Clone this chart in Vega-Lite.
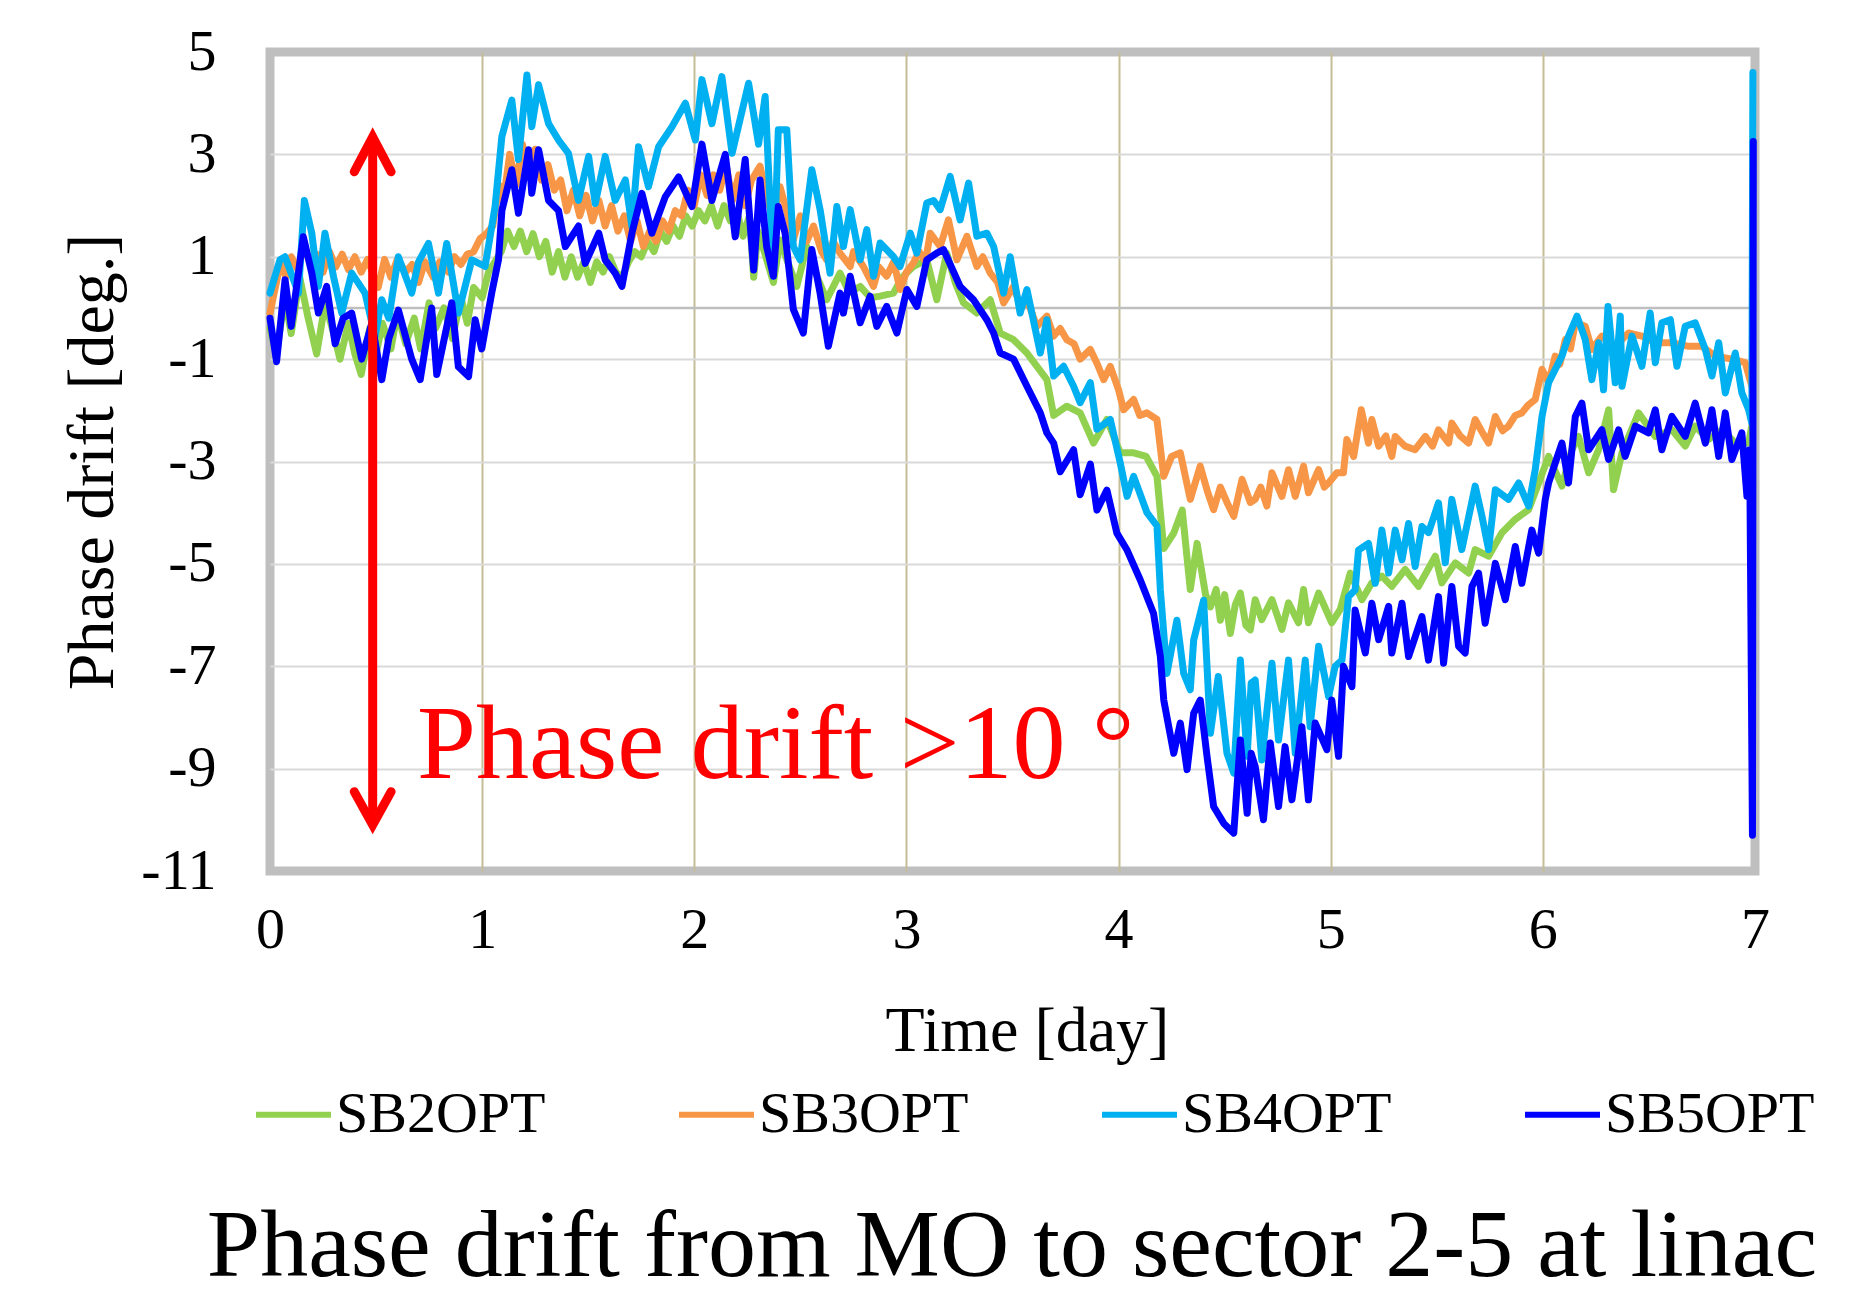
{
"$schema":"https://vega.github.io/schema/vega-lite/v6.json",
"width":1485,"height":819,
"autosize":{"type":"none"},
"padding":{"left":270,"top":52,"right":108,"bottom":429},
"background":"#ffffff",
"config":{
 "view":{"stroke":"#bfbfbf","strokeWidth":9},
 "font":"Liberation Serif",
 "axis":{"labelFont":"Liberation Serif","titleFont":"Liberation Serif","labelColor":"#000000","titleColor":"#000000","titleFontWeight":"normal","domain":false,"ticks":false,"tickSize":0,"labelFlush":false,"labelOverlap":false}
},
"title":{"text":"Phase drift from MO to sector 2-5 at linac","orient":"bottom","anchor":"end","frame":"group","fontSize":96,"font":"Liberation Serif","fontWeight":"normal","color":"#000000","dx":62,"offset":56},
"datasets":{
"series":[
{"s":"SB2OPT","t":0.0,"v":-0.4},{"s":"SB2OPT","t":0.03,"v":-0.9},{"s":"SB2OPT","t":0.07,"v":0.2},{"s":"SB2OPT","t":0.1,"v":-0.5},{"s":"SB2OPT","t":0.14,"v":0.6},{"s":"SB2OPT","t":0.18,"v":-0.2},{"s":"SB2OPT","t":0.22,"v":-0.9},{"s":"SB2OPT","t":0.26,"v":0.1},{"s":"SB2OPT","t":0.3,"v":-0.5},{"s":"SB2OPT","t":0.33,"v":-1.0},{"s":"SB2OPT","t":0.37,"v":-0.3},{"s":"SB2OPT","t":0.4,"v":-0.9},{"s":"SB2OPT","t":0.43,"v":-1.3},{"s":"SB2OPT","t":0.47,"v":-0.4},{"s":"SB2OPT","t":0.5,"v":-0.9},{"s":"SB2OPT","t":0.53,"v":-0.3},{"s":"SB2OPT","t":0.57,"v":-0.8},{"s":"SB2OPT","t":0.6,"v":-0.1},{"s":"SB2OPT","t":0.64,"v":-0.7},{"s":"SB2OPT","t":0.68,"v":-0.2},{"s":"SB2OPT","t":0.71,"v":-0.8},{"s":"SB2OPT","t":0.75,"v":0.1},{"s":"SB2OPT","t":0.78,"v":-0.4},{"s":"SB2OPT","t":0.82,"v":0.0},{"s":"SB2OPT","t":0.86,"v":-0.6},{"s":"SB2OPT","t":0.9,"v":0.2},{"s":"SB2OPT","t":0.93,"v":-0.3},{"s":"SB2OPT","t":0.96,"v":0.4},{"s":"SB2OPT","t":1.0,"v":0.2},{"s":"SB2OPT","t":1.03,"v":0.7},{"s":"SB2OPT","t":1.06,"v":0.9},{"s":"SB2OPT","t":1.09,"v":1.1},{"s":"SB2OPT","t":1.12,"v":1.5},{"s":"SB2OPT","t":1.15,"v":1.2},{"s":"SB2OPT","t":1.18,"v":1.5},{"s":"SB2OPT","t":1.21,"v":1.1},{"s":"SB2OPT","t":1.24,"v":1.45},{"s":"SB2OPT","t":1.27,"v":1.0},{"s":"SB2OPT","t":1.3,"v":1.3},{"s":"SB2OPT","t":1.33,"v":0.7},{"s":"SB2OPT","t":1.36,"v":1.1},{"s":"SB2OPT","t":1.39,"v":0.6},{"s":"SB2OPT","t":1.42,"v":1.0},{"s":"SB2OPT","t":1.45,"v":0.6},{"s":"SB2OPT","t":1.48,"v":0.9},{"s":"SB2OPT","t":1.51,"v":0.5},{"s":"SB2OPT","t":1.54,"v":0.9},{"s":"SB2OPT","t":1.57,"v":0.7},{"s":"SB2OPT","t":1.6,"v":1.0},{"s":"SB2OPT","t":1.63,"v":0.7},{"s":"SB2OPT","t":1.66,"v":0.6},{"s":"SB2OPT","t":1.69,"v":0.9},{"s":"SB2OPT","t":1.72,"v":1.1},{"s":"SB2OPT","t":1.75,"v":1.0},{"s":"SB2OPT","t":1.78,"v":1.3},{"s":"SB2OPT","t":1.81,"v":1.1},{"s":"SB2OPT","t":1.84,"v":1.5},{"s":"SB2OPT","t":1.87,"v":1.3},{"s":"SB2OPT","t":1.9,"v":1.6},{"s":"SB2OPT","t":1.93,"v":1.4},{"s":"SB2OPT","t":1.96,"v":1.8},{"s":"SB2OPT","t":1.99,"v":1.6},{"s":"SB2OPT","t":2.02,"v":1.9},{"s":"SB2OPT","t":2.05,"v":1.7},{"s":"SB2OPT","t":2.08,"v":2.0},{"s":"SB2OPT","t":2.11,"v":1.6},{"s":"SB2OPT","t":2.14,"v":2.0},{"s":"SB2OPT","t":2.17,"v":1.7},{"s":"SB2OPT","t":2.2,"v":1.9},{"s":"SB2OPT","t":2.23,"v":1.4},{"s":"SB2OPT","t":2.26,"v":1.8},{"s":"SB2OPT","t":2.28,"v":0.6},{"s":"SB2OPT","t":2.3,"v":1.5},{"s":"SB2OPT","t":2.33,"v":1.1},{"s":"SB2OPT","t":2.373,"v":0.5},{"s":"SB2OPT","t":2.404,"v":1.33},{"s":"SB2OPT","t":2.44,"v":0.9},{"s":"SB2OPT","t":2.483,"v":0.42},{"s":"SB2OPT","t":2.53,"v":1.2},{"s":"SB2OPT","t":2.58,"v":0.6},{"s":"SB2OPT","t":2.624,"v":0.16},{"s":"SB2OPT","t":2.687,"v":0.68},{"s":"SB2OPT","t":2.73,"v":0.3},{"s":"SB2OPT","t":2.782,"v":0.42},{"s":"SB2OPT","t":2.83,"v":0.2},{"s":"SB2OPT","t":2.876,"v":0.23},{"s":"SB2OPT","t":2.939,"v":0.29},{"s":"SB2OPT","t":2.98,"v":0.6},{"s":"SB2OPT","t":3.033,"v":0.81},{"s":"SB2OPT","t":3.096,"v":0.94},{"s":"SB2OPT","t":3.143,"v":0.16},{"s":"SB2OPT","t":3.19,"v":1.07},{"s":"SB2OPT","t":3.23,"v":0.5},{"s":"SB2OPT","t":3.269,"v":0.1},{"s":"SB2OPT","t":3.332,"v":-0.1},{"s":"SB2OPT","t":3.395,"v":0.16},{"s":"SB2OPT","t":3.442,"v":-0.49},{"s":"SB2OPT","t":3.505,"v":-0.62},{"s":"SB2OPT","t":3.568,"v":-0.88},{"s":"SB2OPT","t":3.615,"v":-1.14},{"s":"SB2OPT","t":3.662,"v":-1.4},{"s":"SB2OPT","t":3.694,"v":-2.1},{"s":"SB2OPT","t":3.756,"v":-1.92},{"s":"SB2OPT","t":3.819,"v":-2.05},{"s":"SB2OPT","t":3.882,"v":-2.64},{"s":"SB2OPT","t":3.945,"v":-2.18},{"s":"SB2OPT","t":4.008,"v":-2.83},{"s":"SB2OPT","t":4.071,"v":-2.83},{"s":"SB2OPT","t":4.13,"v":-2.9},{"s":"SB2OPT","t":4.181,"v":-3.29},{"s":"SB2OPT","t":4.213,"v":-4.7},{"s":"SB2OPT","t":4.26,"v":-4.4},{"s":"SB2OPT","t":4.3,"v":-3.95},{"s":"SB2OPT","t":4.338,"v":-5.5},{"s":"SB2OPT","t":4.37,"v":-4.6},{"s":"SB2OPT","t":4.41,"v":-5.6},{"s":"SB2OPT","t":4.433,"v":-5.84},{"s":"SB2OPT","t":4.46,"v":-5.5},{"s":"SB2OPT","t":4.48,"v":-6.1},{"s":"SB2OPT","t":4.5,"v":-5.6},{"s":"SB2OPT","t":4.527,"v":-6.36},{"s":"SB2OPT","t":4.55,"v":-5.8},{"s":"SB2OPT","t":4.574,"v":-5.57},{"s":"SB2OPT","t":4.6,"v":-6.2},{"s":"SB2OPT","t":4.621,"v":-6.29},{"s":"SB2OPT","t":4.644,"v":-5.7},{"s":"SB2OPT","t":4.675,"v":-6.09},{"s":"SB2OPT","t":4.723,"v":-5.7},{"s":"SB2OPT","t":4.77,"v":-6.28},{"s":"SB2OPT","t":4.801,"v":-5.76},{"s":"SB2OPT","t":4.848,"v":-6.15},{"s":"SB2OPT","t":4.872,"v":-5.5},{"s":"SB2OPT","t":4.895,"v":-6.15},{"s":"SB2OPT","t":4.943,"v":-5.57},{"s":"SB2OPT","t":5.005,"v":-6.15},{"s":"SB2OPT","t":5.045,"v":-5.89},{"s":"SB2OPT","t":5.092,"v":-5.18},{"s":"SB2OPT","t":5.147,"v":-5.7},{"s":"SB2OPT","t":5.194,"v":-5.37},{"s":"SB2OPT","t":5.241,"v":-5.24},{"s":"SB2OPT","t":5.288,"v":-5.44},{"s":"SB2OPT","t":5.351,"v":-5.11},{"s":"SB2OPT","t":5.414,"v":-5.44},{"s":"SB2OPT","t":5.493,"v":-4.85},{"s":"SB2OPT","t":5.524,"v":-5.37},{"s":"SB2OPT","t":5.587,"v":-4.98},{"s":"SB2OPT","t":5.65,"v":-5.18},{"s":"SB2OPT","t":5.681,"v":-4.72},{"s":"SB2OPT","t":5.744,"v":-4.85},{"s":"SB2OPT","t":5.807,"v":-4.39},{"s":"SB2OPT","t":5.87,"v":-4.13},{"s":"SB2OPT","t":5.933,"v":-3.94},{"s":"SB2OPT","t":5.98,"v":-3.42},{"s":"SB2OPT","t":6.027,"v":-2.9},{"s":"SB2OPT","t":6.09,"v":-3.48},{"s":"SB2OPT","t":6.137,"v":-2.77},{"s":"SB2OPT","t":6.168,"v":-2.51},{"s":"SB2OPT","t":6.216,"v":-3.22},{"s":"SB2OPT","t":6.263,"v":-2.77},{"s":"SB2OPT","t":6.31,"v":-1.99},{"s":"SB2OPT","t":6.333,"v":-3.55},{"s":"SB2OPT","t":6.373,"v":-2.83},{"s":"SB2OPT","t":6.451,"v":-2.05},{"s":"SB2OPT","t":6.53,"v":-2.51},{"s":"SB2OPT","t":6.608,"v":-2.38},{"s":"SB2OPT","t":6.671,"v":-2.7},{"s":"SB2OPT","t":6.718,"v":-2.31},{"s":"SB2OPT","t":6.781,"v":-2.57},{"s":"SB2OPT","t":6.844,"v":-2.38},{"s":"SB2OPT","t":6.907,"v":-2.64},{"s":"SB2OPT","t":6.97,"v":-2.64},{"s":"SB2OPT","t":6.985,"v":-2.3},
{"s":"SB3OPT","t":0.0,"v":-0.1},{"s":"SB3OPT","t":0.025,"v":0.4},{"s":"SB3OPT","t":0.05,"v":0.9},{"s":"SB3OPT","t":0.075,"v":0.6},{"s":"SB3OPT","t":0.1,"v":1.0},{"s":"SB3OPT","t":0.13,"v":0.75},{"s":"SB3OPT","t":0.16,"v":1.2},{"s":"SB3OPT","t":0.19,"v":0.85},{"s":"SB3OPT","t":0.22,"v":1.05},{"s":"SB3OPT","t":0.25,"v":0.7},{"s":"SB3OPT","t":0.28,"v":1.1},{"s":"SB3OPT","t":0.31,"v":0.8},{"s":"SB3OPT","t":0.34,"v":1.05},{"s":"SB3OPT","t":0.37,"v":0.75},{"s":"SB3OPT","t":0.4,"v":1.0},{"s":"SB3OPT","t":0.43,"v":0.7},{"s":"SB3OPT","t":0.46,"v":0.95},{"s":"SB3OPT","t":0.51,"v":0.4},{"s":"SB3OPT","t":0.54,"v":0.95},{"s":"SB3OPT","t":0.57,"v":0.6},{"s":"SB3OPT","t":0.6,"v":0.95},{"s":"SB3OPT","t":0.64,"v":0.7},{"s":"SB3OPT","t":0.67,"v":0.85},{"s":"SB3OPT","t":0.7,"v":0.5},{"s":"SB3OPT","t":0.73,"v":0.9},{"s":"SB3OPT","t":0.77,"v":0.6},{"s":"SB3OPT","t":0.8,"v":0.9},{"s":"SB3OPT","t":0.84,"v":0.7},{"s":"SB3OPT","t":0.87,"v":1.0},{"s":"SB3OPT","t":0.9,"v":0.85},{"s":"SB3OPT","t":0.93,"v":1.05},{"s":"SB3OPT","t":0.96,"v":1.1},{"s":"SB3OPT","t":0.99,"v":1.35},{"s":"SB3OPT","t":1.02,"v":1.45},{"s":"SB3OPT","t":1.05,"v":1.6},{"s":"SB3OPT","t":1.08,"v":2.4},{"s":"SB3OPT","t":1.1,"v":2.1},{"s":"SB3OPT","t":1.13,"v":3.0},{"s":"SB3OPT","t":1.16,"v":2.4},{"s":"SB3OPT","t":1.19,"v":3.2},{"s":"SB3OPT","t":1.22,"v":2.6},{"s":"SB3OPT","t":1.25,"v":3.1},{"s":"SB3OPT","t":1.28,"v":2.5},{"s":"SB3OPT","t":1.31,"v":2.8},{"s":"SB3OPT","t":1.34,"v":2.3},{"s":"SB3OPT","t":1.37,"v":2.5},{"s":"SB3OPT","t":1.4,"v":1.9},{"s":"SB3OPT","t":1.43,"v":2.3},{"s":"SB3OPT","t":1.46,"v":1.8},{"s":"SB3OPT","t":1.49,"v":2.2},{"s":"SB3OPT","t":1.52,"v":1.7},{"s":"SB3OPT","t":1.55,"v":2.1},{"s":"SB3OPT","t":1.58,"v":1.6},{"s":"SB3OPT","t":1.61,"v":2.0},{"s":"SB3OPT","t":1.64,"v":1.5},{"s":"SB3OPT","t":1.67,"v":1.8},{"s":"SB3OPT","t":1.7,"v":1.3},{"s":"SB3OPT","t":1.73,"v":1.7},{"s":"SB3OPT","t":1.76,"v":1.2},{"s":"SB3OPT","t":1.79,"v":1.5},{"s":"SB3OPT","t":1.82,"v":1.3},{"s":"SB3OPT","t":1.85,"v":1.7},{"s":"SB3OPT","t":1.88,"v":1.5},{"s":"SB3OPT","t":1.91,"v":1.9},{"s":"SB3OPT","t":1.94,"v":1.8},{"s":"SB3OPT","t":1.97,"v":2.3},{"s":"SB3OPT","t":2.0,"v":2.0},{"s":"SB3OPT","t":2.03,"v":2.6},{"s":"SB3OPT","t":2.06,"v":2.2},{"s":"SB3OPT","t":2.09,"v":2.6},{"s":"SB3OPT","t":2.12,"v":2.3},{"s":"SB3OPT","t":2.15,"v":2.8},{"s":"SB3OPT","t":2.18,"v":2.1},{"s":"SB3OPT","t":2.21,"v":2.6},{"s":"SB3OPT","t":2.24,"v":2.0},{"s":"SB3OPT","t":2.27,"v":2.5},{"s":"SB3OPT","t":2.31,"v":2.77},{"s":"SB3OPT","t":2.34,"v":2.2},{"s":"SB3OPT","t":2.373,"v":1.72},{"s":"SB3OPT","t":2.404,"v":2.37},{"s":"SB3OPT","t":2.435,"v":1.9},{"s":"SB3OPT","t":2.467,"v":1.33},{"s":"SB3OPT","t":2.5,"v":1.8},{"s":"SB3OPT","t":2.53,"v":1.3},{"s":"SB3OPT","t":2.562,"v":1.6},{"s":"SB3OPT","t":2.6,"v":1.1},{"s":"SB3OPT","t":2.624,"v":0.94},{"s":"SB3OPT","t":2.655,"v":1.3},{"s":"SB3OPT","t":2.687,"v":1.07},{"s":"SB3OPT","t":2.735,"v":0.81},{"s":"SB3OPT","t":2.75,"v":1.1},{"s":"SB3OPT","t":2.797,"v":0.81},{"s":"SB3OPT","t":2.845,"v":0.42},{"s":"SB3OPT","t":2.87,"v":0.8},{"s":"SB3OPT","t":2.907,"v":0.62},{"s":"SB3OPT","t":2.94,"v":0.9},{"s":"SB3OPT","t":2.97,"v":0.36},{"s":"SB3OPT","t":3.0,"v":0.7},{"s":"SB3OPT","t":3.033,"v":0.88},{"s":"SB3OPT","t":3.06,"v":1.1},{"s":"SB3OPT","t":3.09,"v":0.9},{"s":"SB3OPT","t":3.112,"v":1.46},{"s":"SB3OPT","t":3.159,"v":1.2},{"s":"SB3OPT","t":3.198,"v":1.72},{"s":"SB3OPT","t":3.238,"v":0.94},{"s":"SB3OPT","t":3.285,"v":1.4},{"s":"SB3OPT","t":3.332,"v":0.81},{"s":"SB3OPT","t":3.36,"v":1.0},{"s":"SB3OPT","t":3.395,"v":0.68},{"s":"SB3OPT","t":3.43,"v":0.5},{"s":"SB3OPT","t":3.458,"v":0.1},{"s":"SB3OPT","t":3.505,"v":0.42},{"s":"SB3OPT","t":3.54,"v":0.0},{"s":"SB3OPT","t":3.568,"v":0.16},{"s":"SB3OPT","t":3.615,"v":-0.36},{"s":"SB3OPT","t":3.662,"v":-0.16},{"s":"SB3OPT","t":3.694,"v":-0.55},{"s":"SB3OPT","t":3.725,"v":-0.4},{"s":"SB3OPT","t":3.756,"v":-0.62},{"s":"SB3OPT","t":3.79,"v":-0.7},{"s":"SB3OPT","t":3.819,"v":-1.0},{"s":"SB3OPT","t":3.867,"v":-0.81},{"s":"SB3OPT","t":3.9,"v":-1.1},{"s":"SB3OPT","t":3.93,"v":-1.4},{"s":"SB3OPT","t":3.961,"v":-1.14},{"s":"SB3OPT","t":4.0,"v":-1.6},{"s":"SB3OPT","t":4.024,"v":-1.99},{"s":"SB3OPT","t":4.071,"v":-1.79},{"s":"SB3OPT","t":4.1,"v":-2.1},{"s":"SB3OPT","t":4.134,"v":-2.05},{"s":"SB3OPT","t":4.181,"v":-2.18},{"s":"SB3OPT","t":4.213,"v":-3.29},{"s":"SB3OPT","t":4.25,"v":-2.9},{"s":"SB3OPT","t":4.291,"v":-2.83},{"s":"SB3OPT","t":4.338,"v":-3.74},{"s":"SB3OPT","t":4.385,"v":-3.09},{"s":"SB3OPT","t":4.42,"v":-3.6},{"s":"SB3OPT","t":4.448,"v":-3.94},{"s":"SB3OPT","t":4.48,"v":-3.5},{"s":"SB3OPT","t":4.511,"v":-3.8},{"s":"SB3OPT","t":4.543,"v":-4.07},{"s":"SB3OPT","t":4.582,"v":-3.35},{"s":"SB3OPT","t":4.621,"v":-3.8},{"s":"SB3OPT","t":4.644,"v":-3.74},{"s":"SB3OPT","t":4.67,"v":-3.5},{"s":"SB3OPT","t":4.699,"v":-3.87},{"s":"SB3OPT","t":4.723,"v":-3.22},{"s":"SB3OPT","t":4.77,"v":-3.68},{"s":"SB3OPT","t":4.801,"v":-3.16},{"s":"SB3OPT","t":4.833,"v":-3.68},{"s":"SB3OPT","t":4.872,"v":-3.09},{"s":"SB3OPT","t":4.895,"v":-3.61},{"s":"SB3OPT","t":4.943,"v":-3.16},{"s":"SB3OPT","t":4.97,"v":-3.5},{"s":"SB3OPT","t":4.99,"v":-3.42},{"s":"SB3OPT","t":5.029,"v":-3.22},{"s":"SB3OPT","t":5.06,"v":-3.22},{"s":"SB3OPT","t":5.076,"v":-2.57},{"s":"SB3OPT","t":5.108,"v":-2.9},{"s":"SB3OPT","t":5.144,"v":-1.99},{"s":"SB3OPT","t":5.178,"v":-2.64},{"s":"SB3OPT","t":5.194,"v":-2.18},{"s":"SB3OPT","t":5.226,"v":-2.7},{"s":"SB3OPT","t":5.26,"v":-2.5},{"s":"SB3OPT","t":5.288,"v":-2.9},{"s":"SB3OPT","t":5.304,"v":-2.51},{"s":"SB3OPT","t":5.35,"v":-2.7},{"s":"SB3OPT","t":5.398,"v":-2.77},{"s":"SB3OPT","t":5.446,"v":-2.51},{"s":"SB3OPT","t":5.48,"v":-2.7},{"s":"SB3OPT","t":5.508,"v":-2.38},{"s":"SB3OPT","t":5.556,"v":-2.64},{"s":"SB3OPT","t":5.571,"v":-2.25},{"s":"SB3OPT","t":5.61,"v":-2.5},{"s":"SB3OPT","t":5.65,"v":-2.64},{"s":"SB3OPT","t":5.681,"v":-2.18},{"s":"SB3OPT","t":5.71,"v":-2.4},{"s":"SB3OPT","t":5.744,"v":-2.64},{"s":"SB3OPT","t":5.776,"v":-2.12},{"s":"SB3OPT","t":5.81,"v":-2.4},{"s":"SB3OPT","t":5.838,"v":-2.31},{"s":"SB3OPT","t":5.87,"v":-2.1},{"s":"SB3OPT","t":5.901,"v":-2.05},{"s":"SB3OPT","t":5.93,"v":-1.9},{"s":"SB3OPT","t":5.964,"v":-1.79},{"s":"SB3OPT","t":5.996,"v":-1.2},{"s":"SB3OPT","t":6.027,"v":-1.46},{"s":"SB3OPT","t":6.058,"v":-0.94},{"s":"SB3OPT","t":6.08,"v":-1.1},{"s":"SB3OPT","t":6.106,"v":-0.62},{"s":"SB3OPT","t":6.13,"v":-0.8},{"s":"SB3OPT","t":6.153,"v":-0.29},{"s":"SB3OPT","t":6.2,"v":-0.36},{"s":"SB3OPT","t":6.231,"v":-0.81},{"s":"SB3OPT","t":6.278,"v":-0.55},{"s":"SB3OPT","t":6.341,"v":-0.75},{"s":"SB3OPT","t":6.404,"v":-0.49},{"s":"SB3OPT","t":6.467,"v":-0.55},{"s":"SB3OPT","t":6.53,"v":-0.68},{"s":"SB3OPT","t":6.608,"v":-0.68},{"s":"SB3OPT","t":6.687,"v":-0.75},{"s":"SB3OPT","t":6.75,"v":-0.75},{"s":"SB3OPT","t":6.813,"v":-0.94},{"s":"SB3OPT","t":6.891,"v":-1.0},{"s":"SB3OPT","t":6.954,"v":-1.07},{"s":"SB3OPT","t":6.985,"v":-1.53},
{"s":"SB4OPT","t":0.0,"v":0.29},{"s":"SB4OPT","t":0.047,"v":0.94},{"s":"SB4OPT","t":0.071,"v":1.0},{"s":"SB4OPT","t":0.134,"v":0.29},{"s":"SB4OPT","t":0.162,"v":2.1},{"s":"SB4OPT","t":0.197,"v":1.46},{"s":"SB4OPT","t":0.228,"v":0.42},{"s":"SB4OPT","t":0.259,"v":1.46},{"s":"SB4OPT","t":0.3,"v":0.6},{"s":"SB4OPT","t":0.338,"v":-0.1},{"s":"SB4OPT","t":0.385,"v":0.68},{"s":"SB4OPT","t":0.448,"v":0.29},{"s":"SB4OPT","t":0.495,"v":-0.56},{"s":"SB4OPT","t":0.527,"v":0.16},{"s":"SB4OPT","t":0.56,"v":-0.2},{"s":"SB4OPT","t":0.605,"v":1.0},{"s":"SB4OPT","t":0.668,"v":0.29},{"s":"SB4OPT","t":0.7,"v":0.9},{"s":"SB4OPT","t":0.747,"v":1.26},{"s":"SB4OPT","t":0.794,"v":0.29},{"s":"SB4OPT","t":0.833,"v":1.26},{"s":"SB4OPT","t":0.888,"v":-0.1},{"s":"SB4OPT","t":0.951,"v":0.94},{"s":"SB4OPT","t":1.014,"v":0.81},{"s":"SB4OPT","t":1.061,"v":1.98},{"s":"SB4OPT","t":1.093,"v":3.35},{"s":"SB4OPT","t":1.14,"v":4.06},{"s":"SB4OPT","t":1.171,"v":2.9},{"s":"SB4OPT","t":1.211,"v":4.55},{"s":"SB4OPT","t":1.234,"v":3.54},{"s":"SB4OPT","t":1.266,"v":4.36},{"s":"SB4OPT","t":1.313,"v":3.6},{"s":"SB4OPT","t":1.36,"v":3.28},{"s":"SB4OPT","t":1.407,"v":3.02},{"s":"SB4OPT","t":1.454,"v":2.1},{"s":"SB4OPT","t":1.502,"v":2.96},{"s":"SB4OPT","t":1.533,"v":2.04},{"s":"SB4OPT","t":1.58,"v":2.96},{"s":"SB4OPT","t":1.627,"v":2.1},{"s":"SB4OPT","t":1.675,"v":2.5},{"s":"SB4OPT","t":1.706,"v":1.59},{"s":"SB4OPT","t":1.737,"v":3.15},{"s":"SB4OPT","t":1.784,"v":2.37},{"s":"SB4OPT","t":1.832,"v":3.15},{"s":"SB4OPT","t":1.895,"v":3.54},{"s":"SB4OPT","t":1.958,"v":4.0},{"s":"SB4OPT","t":2.005,"v":3.28},{"s":"SB4OPT","t":2.036,"v":4.46},{"s":"SB4OPT","t":2.083,"v":3.6},{"s":"SB4OPT","t":2.13,"v":4.52},{"s":"SB4OPT","t":2.178,"v":3.02},{"s":"SB4OPT","t":2.256,"v":4.39},{"s":"SB4OPT","t":2.303,"v":3.2},{"s":"SB4OPT","t":2.334,"v":4.13},{"s":"SB4OPT","t":2.373,"v":0.62},{"s":"SB4OPT","t":2.396,"v":3.48},{"s":"SB4OPT","t":2.436,"v":3.48},{"s":"SB4OPT","t":2.467,"v":1.2},{"s":"SB4OPT","t":2.499,"v":0.94},{"s":"SB4OPT","t":2.554,"v":2.7},{"s":"SB4OPT","t":2.593,"v":1.92},{"s":"SB4OPT","t":2.64,"v":0.68},{"s":"SB4OPT","t":2.672,"v":1.98},{"s":"SB4OPT","t":2.703,"v":1.2},{"s":"SB4OPT","t":2.735,"v":1.92},{"s":"SB4OPT","t":2.782,"v":0.94},{"s":"SB4OPT","t":2.813,"v":1.53},{"s":"SB4OPT","t":2.845,"v":0.62},{"s":"SB4OPT","t":2.876,"v":1.27},{"s":"SB4OPT","t":2.939,"v":1.0},{"s":"SB4OPT","t":2.97,"v":0.81},{"s":"SB4OPT","t":3.018,"v":1.46},{"s":"SB4OPT","t":3.049,"v":1.07},{"s":"SB4OPT","t":3.096,"v":2.05},{"s":"SB4OPT","t":3.128,"v":2.1},{"s":"SB4OPT","t":3.159,"v":1.92},{"s":"SB4OPT","t":3.206,"v":2.57},{"s":"SB4OPT","t":3.253,"v":1.72},{"s":"SB4OPT","t":3.293,"v":2.44},{"s":"SB4OPT","t":3.332,"v":1.4},{"s":"SB4OPT","t":3.379,"v":1.46},{"s":"SB4OPT","t":3.411,"v":1.2},{"s":"SB4OPT","t":3.458,"v":0.29},{"s":"SB4OPT","t":3.489,"v":1.0},{"s":"SB4OPT","t":3.536,"v":-0.1},{"s":"SB4OPT","t":3.568,"v":0.36},{"s":"SB4OPT","t":3.631,"v":-0.88},{"s":"SB4OPT","t":3.662,"v":-0.23},{"s":"SB4OPT","t":3.694,"v":-1.33},{"s":"SB4OPT","t":3.741,"v":-1.14},{"s":"SB4OPT","t":3.788,"v":-1.53},{"s":"SB4OPT","t":3.819,"v":-1.85},{"s":"SB4OPT","t":3.867,"v":-1.46},{"s":"SB4OPT","t":3.898,"v":-2.37},{"s":"SB4OPT","t":3.961,"v":-2.18},{"s":"SB4OPT","t":4.008,"v":-3.03},{"s":"SB4OPT","t":4.04,"v":-3.68},{"s":"SB4OPT","t":4.071,"v":-3.29},{"s":"SB4OPT","t":4.134,"v":-4.0},{"s":"SB4OPT","t":4.181,"v":-4.26},{"s":"SB4OPT","t":4.197,"v":-5.51},{"s":"SB4OPT","t":4.228,"v":-7.14},{"s":"SB4OPT","t":4.275,"v":-6.1},{"s":"SB4OPT","t":4.307,"v":-7.14},{"s":"SB4OPT","t":4.338,"v":-7.46},{"s":"SB4OPT","t":4.354,"v":-6.49},{"s":"SB4OPT","t":4.401,"v":-5.71},{"s":"SB4OPT","t":4.433,"v":-8.31},{"s":"SB4OPT","t":4.47,"v":-7.2},{"s":"SB4OPT","t":4.511,"v":-8.7},{"s":"SB4OPT","t":4.543,"v":-9.09},{"s":"SB4OPT","t":4.574,"v":-6.88},{"s":"SB4OPT","t":4.606,"v":-8.76},{"s":"SB4OPT","t":4.625,"v":-7.33},{"s":"SB4OPT","t":4.644,"v":-7.27},{"s":"SB4OPT","t":4.675,"v":-8.83},{"s":"SB4OPT","t":4.723,"v":-6.94},{"s":"SB4OPT","t":4.754,"v":-8.44},{"s":"SB4OPT","t":4.801,"v":-6.88},{"s":"SB4OPT","t":4.833,"v":-8.7},{"s":"SB4OPT","t":4.88,"v":-6.88},{"s":"SB4OPT","t":4.903,"v":-8.18},{"s":"SB4OPT","t":4.943,"v":-6.61},{"s":"SB4OPT","t":4.99,"v":-7.59},{"s":"SB4OPT","t":5.021,"v":-7.0},{"s":"SB4OPT","t":5.053,"v":-6.88},{"s":"SB4OPT","t":5.084,"v":-5.64},{"s":"SB4OPT","t":5.115,"v":-5.51},{"s":"SB4OPT","t":5.131,"v":-4.73},{"s":"SB4OPT","t":5.178,"v":-4.6},{"s":"SB4OPT","t":5.21,"v":-5.38},{"s":"SB4OPT","t":5.241,"v":-4.34},{"s":"SB4OPT","t":5.273,"v":-5.18},{"s":"SB4OPT","t":5.304,"v":-4.34},{"s":"SB4OPT","t":5.336,"v":-4.92},{"s":"SB4OPT","t":5.367,"v":-4.21},{"s":"SB4OPT","t":5.398,"v":-5.05},{"s":"SB4OPT","t":5.43,"v":-4.27},{"s":"SB4OPT","t":5.461,"v":-4.39},{"s":"SB4OPT","t":5.508,"v":-3.81},{"s":"SB4OPT","t":5.54,"v":-4.98},{"s":"SB4OPT","t":5.571,"v":-3.74},{"s":"SB4OPT","t":5.618,"v":-4.72},{"s":"SB4OPT","t":5.681,"v":-3.48},{"s":"SB4OPT","t":5.713,"v":-4.07},{"s":"SB4OPT","t":5.744,"v":-4.72},{"s":"SB4OPT","t":5.776,"v":-3.55},{"s":"SB4OPT","t":5.838,"v":-3.74},{"s":"SB4OPT","t":5.886,"v":-3.42},{"s":"SB4OPT","t":5.933,"v":-3.87},{"s":"SB4OPT","t":5.964,"v":-3.16},{"s":"SB4OPT","t":5.996,"v":-2.12},{"s":"SB4OPT","t":6.027,"v":-1.46},{"s":"SB4OPT","t":6.09,"v":-0.94},{"s":"SB4OPT","t":6.121,"v":-0.55},{"s":"SB4OPT","t":6.161,"v":-0.16},{"s":"SB4OPT","t":6.2,"v":-0.62},{"s":"SB4OPT","t":6.231,"v":-1.4},{"s":"SB4OPT","t":6.263,"v":-0.68},{"s":"SB4OPT","t":6.286,"v":-1.6},{"s":"SB4OPT","t":6.307,"v":0.03},{"s":"SB4OPT","t":6.341,"v":-1.46},{"s":"SB4OPT","t":6.365,"v":-0.16},{"s":"SB4OPT","t":6.373,"v":-1.53},{"s":"SB4OPT","t":6.42,"v":-0.55},{"s":"SB4OPT","t":6.467,"v":-1.14},{"s":"SB4OPT","t":6.506,"v":-0.1},{"s":"SB4OPT","t":6.53,"v":-1.07},{"s":"SB4OPT","t":6.561,"v":-0.29},{"s":"SB4OPT","t":6.601,"v":-0.23},{"s":"SB4OPT","t":6.632,"v":-1.14},{"s":"SB4OPT","t":6.671,"v":-0.36},{"s":"SB4OPT","t":6.718,"v":-0.29},{"s":"SB4OPT","t":6.766,"v":-0.81},{"s":"SB4OPT","t":6.797,"v":-1.33},{"s":"SB4OPT","t":6.829,"v":-0.68},{"s":"SB4OPT","t":6.86,"v":-1.66},{"s":"SB4OPT","t":6.907,"v":-0.88},{"s":"SB4OPT","t":6.938,"v":-1.66},{"s":"SB4OPT","t":6.97,"v":-1.99},{"s":"SB4OPT","t":6.985,"v":-2.25},{"s":"SB4OPT","t":6.99,"v":4.6},
{"s":"SB5OPT","t":0.0,"v":-0.2},{"s":"SB5OPT","t":0.031,"v":-1.05},{"s":"SB5OPT","t":0.071,"v":0.55},{"s":"SB5OPT","t":0.1,"v":-0.36},{"s":"SB5OPT","t":0.157,"v":1.39},{"s":"SB5OPT","t":0.197,"v":0.68},{"s":"SB5OPT","t":0.228,"v":-0.1},{"s":"SB5OPT","t":0.267,"v":0.42},{"s":"SB5OPT","t":0.307,"v":-0.7},{"s":"SB5OPT","t":0.345,"v":-0.2},{"s":"SB5OPT","t":0.385,"v":-0.1},{"s":"SB5OPT","t":0.432,"v":-1.0},{"s":"SB5OPT","t":0.48,"v":-0.3},{"s":"SB5OPT","t":0.527,"v":-1.4},{"s":"SB5OPT","t":0.56,"v":-0.6},{"s":"SB5OPT","t":0.605,"v":-0.04},{"s":"SB5OPT","t":0.668,"v":-1.0},{"s":"SB5OPT","t":0.708,"v":-1.4},{"s":"SB5OPT","t":0.762,"v":0.0},{"s":"SB5OPT","t":0.786,"v":-1.3},{"s":"SB5OPT","t":0.857,"v":0.1},{"s":"SB5OPT","t":0.888,"v":-1.15},{"s":"SB5OPT","t":0.936,"v":-1.34},{"s":"SB5OPT","t":0.967,"v":-0.23},{"s":"SB5OPT","t":0.998,"v":-0.8},{"s":"SB5OPT","t":1.045,"v":0.29},{"s":"SB5OPT","t":1.077,"v":0.94},{"s":"SB5OPT","t":1.093,"v":1.9},{"s":"SB5OPT","t":1.14,"v":2.7},{"s":"SB5OPT","t":1.171,"v":1.85},{"s":"SB5OPT","t":1.219,"v":3.09},{"s":"SB5OPT","t":1.234,"v":2.24},{"s":"SB5OPT","t":1.266,"v":3.09},{"s":"SB5OPT","t":1.313,"v":2.1},{"s":"SB5OPT","t":1.36,"v":1.9},{"s":"SB5OPT","t":1.392,"v":1.2},{"s":"SB5OPT","t":1.454,"v":1.6},{"s":"SB5OPT","t":1.486,"v":0.87},{"s":"SB5OPT","t":1.55,"v":1.46},{"s":"SB5OPT","t":1.58,"v":0.94},{"s":"SB5OPT","t":1.627,"v":0.68},{"s":"SB5OPT","t":1.659,"v":0.42},{"s":"SB5OPT","t":1.706,"v":1.46},{"s":"SB5OPT","t":1.753,"v":2.24},{"s":"SB5OPT","t":1.8,"v":1.46},{"s":"SB5OPT","t":1.863,"v":2.17},{"s":"SB5OPT","t":1.926,"v":2.56},{"s":"SB5OPT","t":1.989,"v":1.98},{"s":"SB5OPT","t":2.036,"v":3.2},{"s":"SB5OPT","t":2.083,"v":2.1},{"s":"SB5OPT","t":2.146,"v":3.0},{"s":"SB5OPT","t":2.193,"v":1.39},{"s":"SB5OPT","t":2.24,"v":2.9},{"s":"SB5OPT","t":2.28,"v":0.74},{"s":"SB5OPT","t":2.31,"v":2.5},{"s":"SB5OPT","t":2.341,"v":1.2},{"s":"SB5OPT","t":2.373,"v":0.62},{"s":"SB5OPT","t":2.396,"v":1.98},{"s":"SB5OPT","t":2.428,"v":1.46},{"s":"SB5OPT","t":2.467,"v":-0.03},{"s":"SB5OPT","t":2.514,"v":-0.49},{"s":"SB5OPT","t":2.554,"v":1.14},{"s":"SB5OPT","t":2.593,"v":0.29},{"s":"SB5OPT","t":2.632,"v":-0.75},{"s":"SB5OPT","t":2.687,"v":0.29},{"s":"SB5OPT","t":2.703,"v":-0.1},{"s":"SB5OPT","t":2.735,"v":0.62},{"s":"SB5OPT","t":2.782,"v":-0.29},{"s":"SB5OPT","t":2.829,"v":0.23},{"s":"SB5OPT","t":2.86,"v":-0.36},{"s":"SB5OPT","t":2.907,"v":0.03},{"s":"SB5OPT","t":2.955,"v":-0.49},{"s":"SB5OPT","t":3.002,"v":0.36},{"s":"SB5OPT","t":3.049,"v":0.03},{"s":"SB5OPT","t":3.096,"v":0.94},{"s":"SB5OPT","t":3.143,"v":1.07},{"s":"SB5OPT","t":3.175,"v":1.14},{"s":"SB5OPT","t":3.253,"v":0.42},{"s":"SB5OPT","t":3.316,"v":0.16},{"s":"SB5OPT","t":3.379,"v":-0.23},{"s":"SB5OPT","t":3.411,"v":-0.49},{"s":"SB5OPT","t":3.442,"v":-0.88},{"s":"SB5OPT","t":3.505,"v":-1.0},{"s":"SB5OPT","t":3.568,"v":-1.53},{"s":"SB5OPT","t":3.631,"v":-2.05},{"s":"SB5OPT","t":3.662,"v":-2.44},{"s":"SB5OPT","t":3.694,"v":-2.64},{"s":"SB5OPT","t":3.725,"v":-3.2},{"s":"SB5OPT","t":3.788,"v":-2.77},{"s":"SB5OPT","t":3.819,"v":-3.65},{"s":"SB5OPT","t":3.867,"v":-3.05},{"s":"SB5OPT","t":3.898,"v":-3.95},{"s":"SB5OPT","t":3.945,"v":-3.56},{"s":"SB5OPT","t":3.992,"v":-4.4},{"s":"SB5OPT","t":4.04,"v":-4.73},{"s":"SB5OPT","t":4.102,"v":-5.31},{"s":"SB5OPT","t":4.165,"v":-5.97},{"s":"SB5OPT","t":4.197,"v":-6.81},{"s":"SB5OPT","t":4.213,"v":-7.66},{"s":"SB5OPT","t":4.26,"v":-8.7},{"s":"SB5OPT","t":4.291,"v":-8.11},{"s":"SB5OPT","t":4.323,"v":-9.02},{"s":"SB5OPT","t":4.354,"v":-7.92},{"s":"SB5OPT","t":4.385,"v":-7.66},{"s":"SB5OPT","t":4.417,"v":-8.76},{"s":"SB5OPT","t":4.448,"v":-9.74},{"s":"SB5OPT","t":4.496,"v":-10.07},{"s":"SB5OPT","t":4.543,"v":-10.26},{"s":"SB5OPT","t":4.574,"v":-8.44},{"s":"SB5OPT","t":4.606,"v":-9.87},{"s":"SB5OPT","t":4.625,"v":-8.7},{"s":"SB5OPT","t":4.644,"v":-8.96},{"s":"SB5OPT","t":4.683,"v":-10.0},{"s":"SB5OPT","t":4.715,"v":-8.5},{"s":"SB5OPT","t":4.754,"v":-9.74},{"s":"SB5OPT","t":4.785,"v":-8.57},{"s":"SB5OPT","t":4.817,"v":-9.61},{"s":"SB5OPT","t":4.864,"v":-8.18},{"s":"SB5OPT","t":4.895,"v":-9.61},{"s":"SB5OPT","t":4.927,"v":-8.11},{"s":"SB5OPT","t":4.982,"v":-8.63},{"s":"SB5OPT","t":5.005,"v":-7.66},{"s":"SB5OPT","t":5.037,"v":-8.76},{"s":"SB5OPT","t":5.06,"v":-7.0},{"s":"SB5OPT","t":5.1,"v":-7.4},{"s":"SB5OPT","t":5.115,"v":-5.9},{"s":"SB5OPT","t":5.163,"v":-6.74},{"s":"SB5OPT","t":5.194,"v":-5.77},{"s":"SB5OPT","t":5.226,"v":-6.48},{"s":"SB5OPT","t":5.273,"v":-5.83},{"s":"SB5OPT","t":5.288,"v":-6.74},{"s":"SB5OPT","t":5.336,"v":-5.77},{"s":"SB5OPT","t":5.367,"v":-6.81},{"s":"SB5OPT","t":5.43,"v":-6.03},{"s":"SB5OPT","t":5.461,"v":-6.88},{"s":"SB5OPT","t":5.508,"v":-5.64},{"s":"SB5OPT","t":5.532,"v":-6.94},{"s":"SB5OPT","t":5.571,"v":-5.44},{"s":"SB5OPT","t":5.603,"v":-6.61},{"s":"SB5OPT","t":5.634,"v":-6.74},{"s":"SB5OPT","t":5.666,"v":-5.44},{"s":"SB5OPT","t":5.697,"v":-5.18},{"s":"SB5OPT","t":5.728,"v":-6.16},{"s":"SB5OPT","t":5.776,"v":-4.99},{"s":"SB5OPT","t":5.823,"v":-5.7},{"s":"SB5OPT","t":5.87,"v":-4.66},{"s":"SB5OPT","t":5.901,"v":-5.38},{"s":"SB5OPT","t":5.948,"v":-4.34},{"s":"SB5OPT","t":5.98,"v":-4.79},{"s":"SB5OPT","t":6.011,"v":-3.75},{"s":"SB5OPT","t":6.027,"v":-3.42},{"s":"SB5OPT","t":6.058,"v":-3.03},{"s":"SB5OPT","t":6.09,"v":-2.64},{"s":"SB5OPT","t":6.121,"v":-3.42},{"s":"SB5OPT","t":6.153,"v":-2.12},{"s":"SB5OPT","t":6.184,"v":-1.86},{"s":"SB5OPT","t":6.216,"v":-2.77},{"s":"SB5OPT","t":6.278,"v":-2.38},{"s":"SB5OPT","t":6.31,"v":-2.96},{"s":"SB5OPT","t":6.357,"v":-2.38},{"s":"SB5OPT","t":6.388,"v":-2.9},{"s":"SB5OPT","t":6.436,"v":-2.31},{"s":"SB5OPT","t":6.498,"v":-2.44},{"s":"SB5OPT","t":6.53,"v":-1.99},{"s":"SB5OPT","t":6.561,"v":-2.77},{"s":"SB5OPT","t":6.608,"v":-2.12},{"s":"SB5OPT","t":6.671,"v":-2.51},{"s":"SB5OPT","t":6.718,"v":-1.86},{"s":"SB5OPT","t":6.766,"v":-2.64},{"s":"SB5OPT","t":6.797,"v":-1.99},{"s":"SB5OPT","t":6.829,"v":-2.9},{"s":"SB5OPT","t":6.86,"v":-2.05},{"s":"SB5OPT","t":6.891,"v":-2.96},{"s":"SB5OPT","t":6.938,"v":-2.44},{"s":"SB5OPT","t":6.962,"v":-3.68},{"s":"SB5OPT","t":6.975,"v":-2.77},{"s":"SB5OPT","t":6.988,"v":-10.3},{"s":"SB5OPT","t":6.992,"v":3.25}
],
"heads":[
{"part":"top","t":0.397,"v":2.66},{"part":"top","t":0.484,"v":3.34},{"part":"top","t":0.571,"v":2.66},
{"part":"bottom","t":0.397,"v":-9.45},{"part":"bottom","t":0.484,"v":-10.1},{"part":"bottom","t":0.571,"v":-9.45}
]
},
"layer":[
{"data":{"values":[{"v":0}]},
 "mark":{"type":"rule","color":"#bfbfbf","strokeWidth":2.5},
 "encoding":{
  "y":{"field":"v","type":"quantitative","title":"Phase drift [deg.]","scale":{"domain":[-11,5],"nice":false,"zero":false},
   "axis":{"values":[-11,-9,-7,-5,-3,-1,1,3,5],"grid":true,"gridColor":{"condition":{"test":"datum.value == -11 || datum.value == 5","value":"rgba(0,0,0,0)"},"value":"#d9d9d9"},"gridWidth":2,"labelFontSize":58,"labelPadding":54,"labelExpr":"datum.value + ''","titleFontSize":66,"titleX":-158,"titleY":409.5,"titleAngle":270,"titleBaseline":"alphabetic","titleAlign":"center"}}
 }},
{"data":{"name":"series"},
 "mark":{"type":"line","strokeWidth":7,"strokeJoin":"round","strokeCap":"round"},
 "encoding":{
  "x":{"field":"t","type":"quantitative","title":"Time [day]","scale":{"domain":[0,7],"nice":false,"zero":false},
   "axis":{"values":[0,1,2,3,4,5,6,7],"format":"d","grid":true,"gridColor":{"condition":{"test":"datum.value == 0 || datum.value == 7","value":"rgba(0,0,0,0)"},"value":"#c4bd97"},"gridWidth":2,"labelFontSize":58,"labelPadding":76,"labelBaseline":"alphabetic","labelDx":4,"titleFontSize":64,"titleX":757,"titleY":179,"titleBaseline":"alphabetic","titleAlign":"center"}},
  "y":{"field":"v","type":"quantitative","title":"Phase drift [deg.]"},
  "color":{"field":"s","type":"nominal","scale":{"domain":["SB2OPT","SB3OPT","SB4OPT","SB5OPT"],"range":["#92d050","#f79646","#00b0f0","#0000ff"]},
   "legend":{"orient":"none","legendX":-17,"legendY":1022,"direction":"horizontal","columns":4,"title":null,"symbolType":"stroke","symbolSize":5625,"symbolStrokeWidth":6,"labelFontSize":58,"labelFont":"Liberation Serif","labelColor":"#000000","labelOffset":2,"columnPadding":121,"padding":0,"labelLimit":0}}
 }},
{"data":{"values":[{"t":0.484,"v":3.3,"v2":-10.05}]},
 "mark":{"type":"rule","color":"#ff0000","strokeWidth":9,"strokeCap":"butt"},
 "encoding":{"x":{"field":"t","type":"quantitative","title":"Time [day]"},"y":{"field":"v","type":"quantitative","title":"Phase drift [deg.]"},"y2":{"field":"v2"}}},
{"data":{"name":"heads"},
 "mark":{"type":"line","color":"#ff0000","strokeWidth":9,"strokeCap":"round","strokeJoin":"miter"},
 "encoding":{"x":{"field":"t","type":"quantitative","title":"Time [day]"},"y":{"field":"v","type":"quantitative","title":"Phase drift [deg.]"},"detail":{"field":"part"}}},
{"data":{"values":[{"label":"Phase drift >10 °","t":0.693,"v":-9.18}]},
 "mark":{"type":"text","align":"left","baseline":"alphabetic","fontSize":106,"font":"Liberation Serif","color":"#ff0000"},
 "encoding":{"x":{"field":"t","type":"quantitative","title":"Time [day]"},"y":{"field":"v","type":"quantitative","title":"Phase drift [deg.]"},"text":{"field":"label"}}}
]
}
